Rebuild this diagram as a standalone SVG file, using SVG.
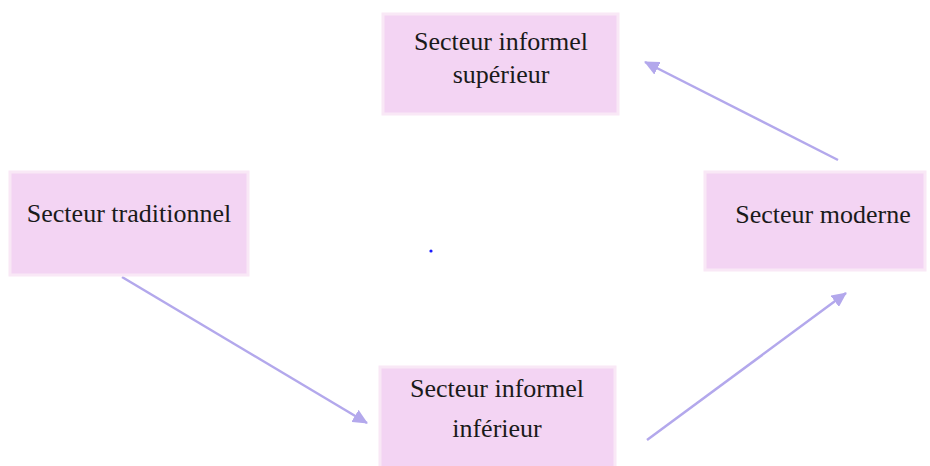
<svg xmlns="http://www.w3.org/2000/svg" width="930" height="466" viewBox="0 0 930 466">
<style>
.box{fill:#f3d4f3;stroke:#f9e8f6;stroke-width:3}
.lbl{font-family:"Liberation Serif","Times New Roman",serif;font-size:26px;fill:#1a1a1a;text-anchor:middle}
.arr{stroke:#b3a8ec;stroke-width:2.5;fill:none;marker-end:url(#ah)}
</style>
<defs>
<marker id="ah" markerUnits="userSpaceOnUse" markerWidth="16" markerHeight="14" refX="14" refY="7" orient="auto">
<path d="M0,0 L15,7 L0,14 Z" fill="#b3a8ec"/>
</marker>
</defs>
<rect width="930" height="466" fill="#ffffff"/>
<g id="connectors">
<line class="arr" x1="838" y1="160" x2="645" y2="62"/>
<line class="arr" x1="122" y1="277" x2="367" y2="423"/>
<line class="arr" x1="647" y1="440" x2="846" y2="293"/>
</g>
<g id="n-sup">
<rect class="box" x="383" y="14" width="235" height="100"/>
<text class="lbl" x="501" y="50">Secteur informel</text>
<text class="lbl" x="501" y="83">supérieur</text>
</g>
<g id="n-trad">
<rect class="box" x="10" y="172" width="238" height="103"/>
<text class="lbl" x="129" y="222">Secteur traditionnel</text>
</g>
<g id="n-mod">
<rect class="box" x="705" y="172" width="220" height="98"/>
<text class="lbl" x="823" y="223">Secteur moderne</text>
</g>
<g id="n-inf">
<rect class="box" x="380" y="367" width="235" height="105"/>
<text class="lbl" x="497" y="397">Secteur informel</text>
<text class="lbl" x="497" y="437">inférieur</text>
</g>
<circle cx="431" cy="251" r="1.6" fill="#1a1aff"/>
</svg>
